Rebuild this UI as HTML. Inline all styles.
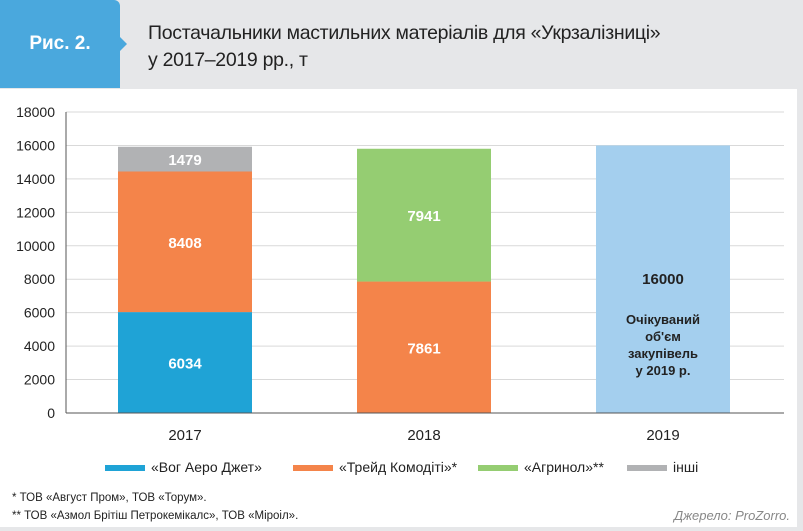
<!DOCTYPE html>
<html><head><meta charset="utf-8"><style>
body{margin:0;width:803px;height:531px;background:#e6e7e9;font-family:"Liberation Sans",sans-serif;overflow:hidden;position:relative}
.tab{position:absolute;left:0;top:0;width:120px;height:88px;background:#4aa8dd;border-radius:0 6px 0 0}
.tab:after{content:"";position:absolute;right:-7px;top:37px;border-left:7px solid #4aa8dd;border-top:7px solid transparent;border-bottom:7px solid transparent}
.tab span{position:absolute;left:0;width:120px;top:33px;text-align:center;color:#fff;font-size:19px;font-weight:bold}
.title{position:absolute;left:148px;top:20px;font-size:19.5px;line-height:27px;color:#222;letter-spacing:-0.3px}
.panel{position:absolute;left:0;top:89px;width:797px;height:438px;background:#fff}
</style></head><body>
<div class="tab"><span>Рис. 2.</span></div>
<div class="title">Постачальники мастильних матеріалів для «Укрзалізниці»<br>у 2017–2019 рр., т</div>
<div class="panel"></div>
<svg id="c" width="803" height="531" style="position:absolute;left:0;top:0"></svg>
<script>
const categories=["2017","2018","2019"];
const seriesNames=["«Вог Аеро Джет»","«Трейд Комодіті»*","«Агринол»**","інші","Очікуваний"];
const vog=[6034,0,0];
const treid=[8408,7861,0];
const agrinol=[0,7941,0];
const other=[1479,0,0];
const expected=[0,0,16000];
const yTicks=[0,2000,4000,6000,8000,10000,12000,14000,16000,18000];
const colors=["#1fa3d6","#f4844a","#95cd72","#b1b2b4","#a4cfee"];
const NS="http://www.w3.org/2000/svg",svg=document.getElementById('c');
const x0=66,x1=784,yZero=413,yTop=112,yMax=18000;
const y=v=>yZero-(v/yMax)*(yZero-yTop);
const xc=i=>185+i*239;
function el(t,a,txt){const e=document.createElementNS(NS,t);for(const k in a)e.setAttribute(k,a[k]);if(txt!=null)e.textContent=txt;svg.appendChild(e);return e;}
yTicks.forEach(t=>{
 if(t>0){const g=el('line',{x1:x0,x2:x1,y1:y(t),y2:y(t),stroke:'#d9d9d9','stroke-width':1});
 
 }
 const l=el('text',{x:55,y:y(t)+5,'text-anchor':'end','font-size':14,fill:'#222'},t);
 
 
});
const ax=el('line',{x1:x0,x2:x0,y1:y(18000),y2:yZero,stroke:'#555'});


const series=[vog,treid,agrinol,other,expected];
categories.forEach((c,i)=>{
 let base=0;
 series.forEach((s,k)=>{
  const v=s[i];if(!v)return;
  const r=el('rect',{x:xc(i)-67,width:134,y:y(base+v),height:y(base)-y(base+v),fill:colors[k]});
  
  
  const dark=k==4;
  const t=el('text',{x:xc(i),y:dark?y(base+v/2)+5:(y(base)+y(base+v))/2+6,'text-anchor':'middle','font-size':15,'font-weight':'bold',fill:dark?'#222':'#fff'},v);
  
  
  if(dark){["Очікуваний","об'єм","закупівель","у 2019 р."].forEach((s2,j)=>{
   const q=el('text',{x:xc(i),y:324+j*17,'text-anchor':'middle','font-size':13,'font-weight':'bold',fill:'#222'},s2);
   
   });}
  base+=v;
 });
 const lab=el('text',{x:xc(i),y:440,'text-anchor':'middle','font-size':15,fill:'#222'},c);
 
 
});
const xa=el('line',{x1:x0,x2:x1,y1:yZero,y2:yZero,stroke:'#555'});


const legX=[105,293,478,627];
legX.forEach((lx,k)=>{
 const s=el('rect',{x:lx,y:465,width:40,height:6,fill:colors[k]});
 
 
 const t=el('text',{x:lx+46,y:472,'font-size':14,fill:'#222'},seriesNames[k]);
 
 
});
[["* ТОВ «Август Пром», ТОВ «Торум».",501],["** ТОВ «Азмол Брітіш Петрокемікалс», ТОВ «Мiроiл».",519]].forEach(f=>{
 const t=el('text',{x:12,y:f[1],'font-size':11.5,fill:'#222'},f[0]);
 
 
});
const src=el('text',{x:790,y:520,'text-anchor':'end','font-size':13,'font-style':'italic',fill:'#888'},'Джерело: ProZorro.');


</script>
</body></html>
